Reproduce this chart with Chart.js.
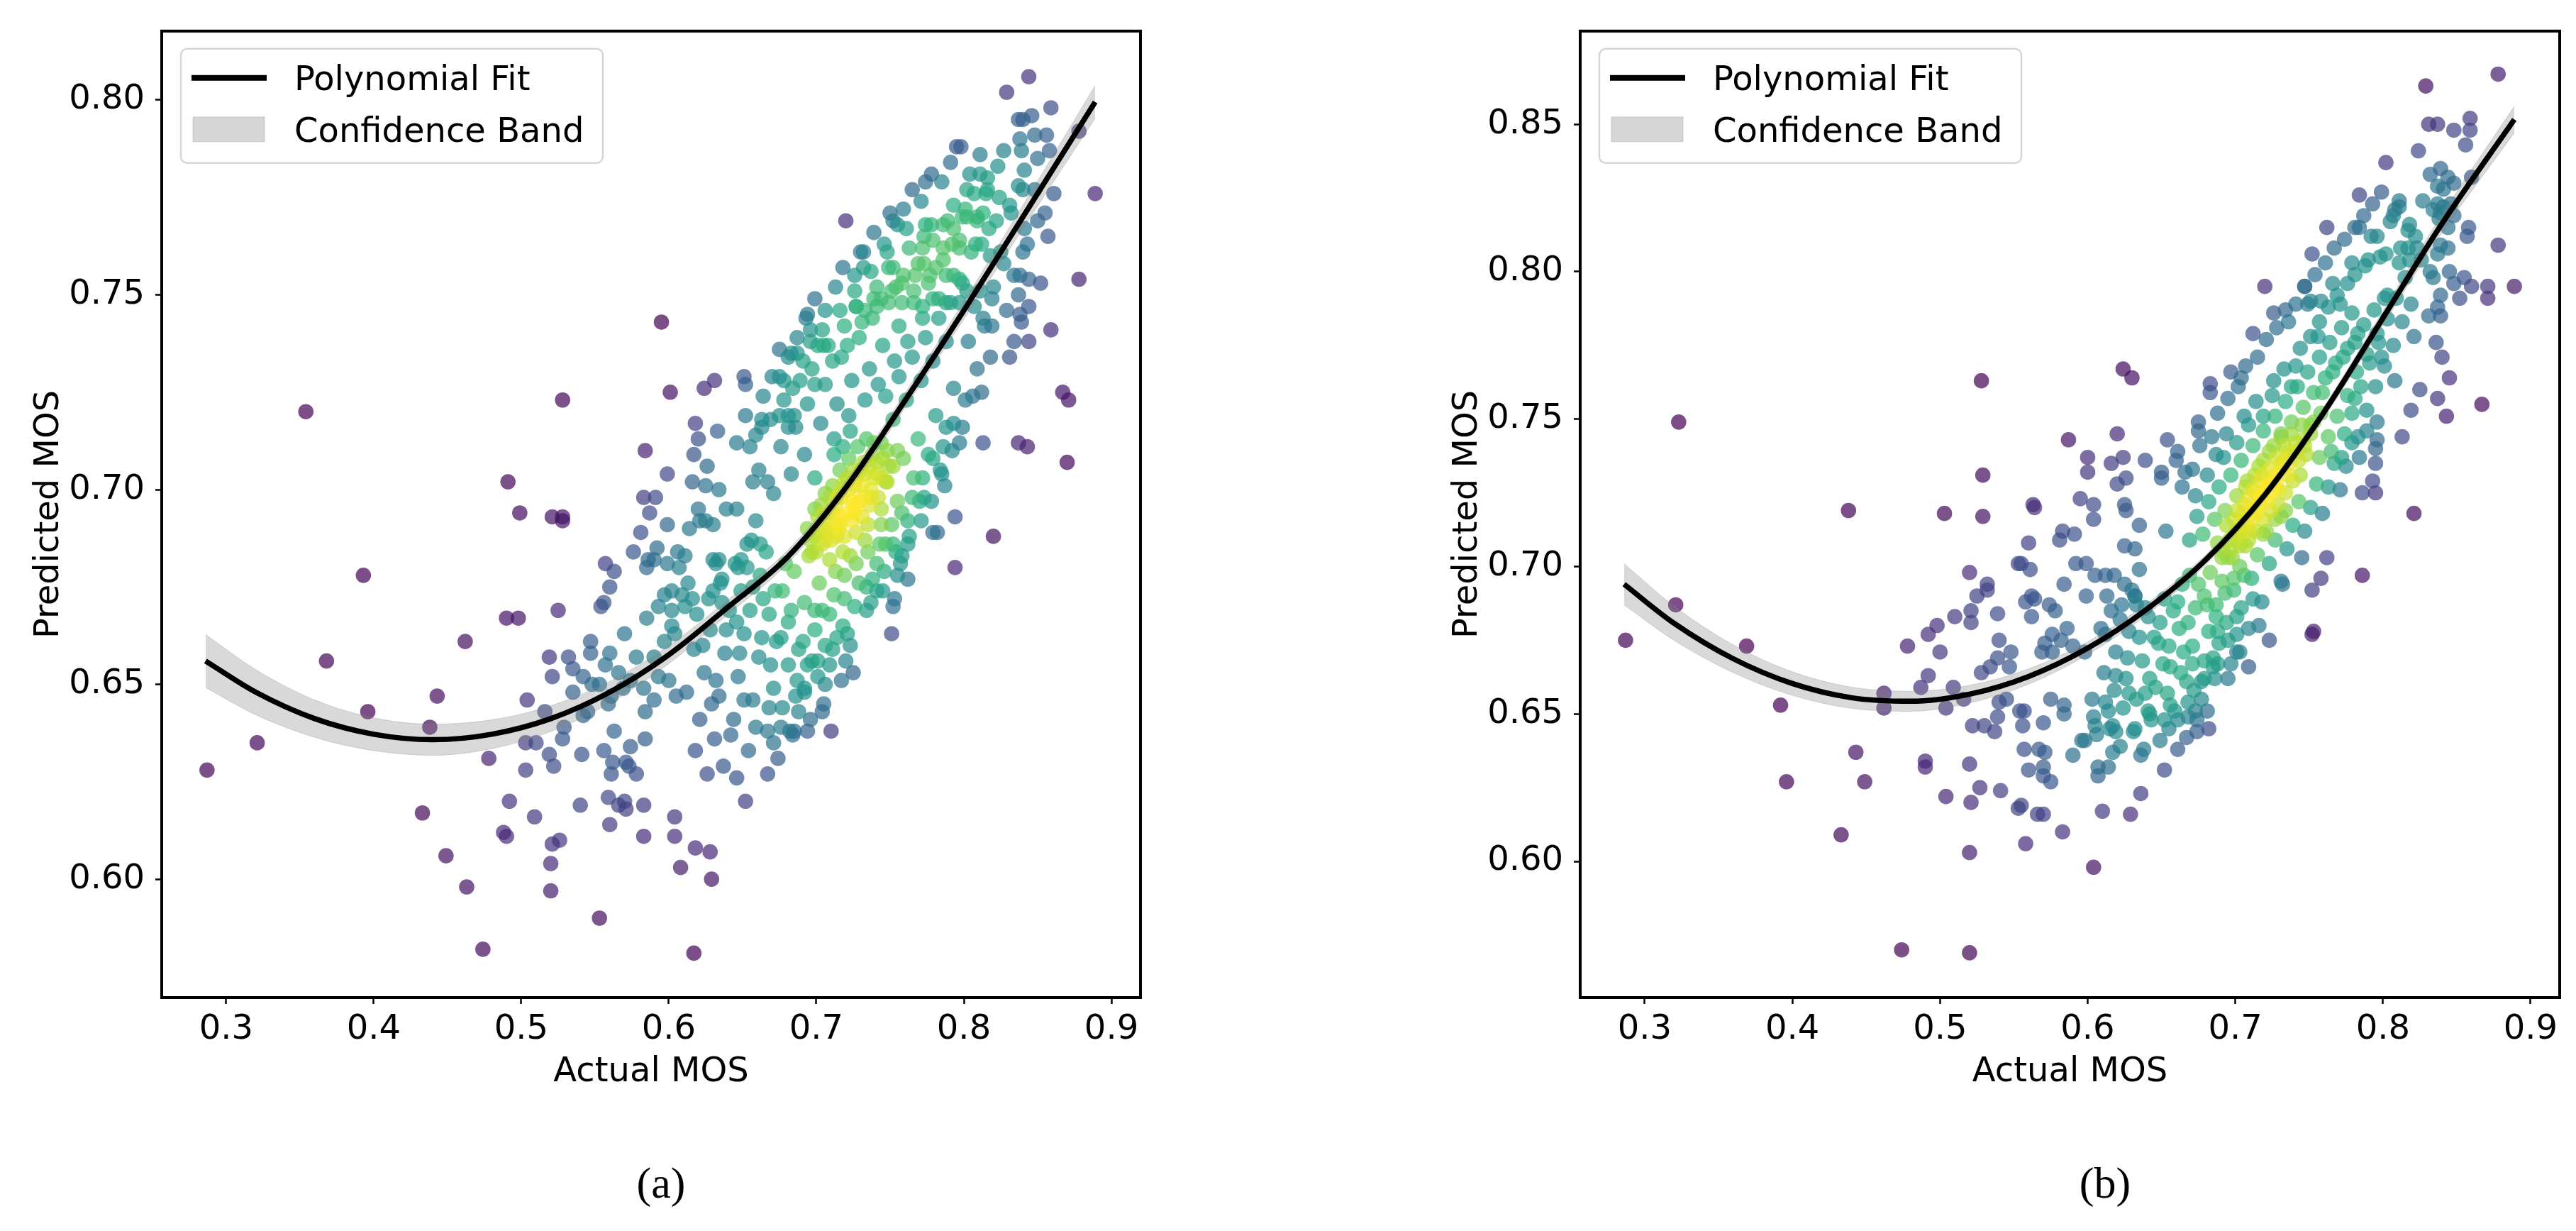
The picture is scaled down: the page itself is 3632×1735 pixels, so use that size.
<!DOCTYPE html>
<html>
<head>
<meta charset="utf-8">
<script src="https://cdn.jsdelivr.net/npm/chart.js@4.4.0/dist/chart.umd.min.js"></script>
<style>
  html, body { margin: 0; padding: 0; background: #fff; overflow: hidden; }
  body { width: 3632px; height: 1735px; position: relative; }
  canvas { position: absolute; top: 0; }
  #chartA { left: 0; }
  #chartB { left: 2000px; }
  .caption { position: absolute; top: 1667px; transform: translate(-50%, -50%); font: 62px "Liberation Serif", "Times New Roman", serif; color: #000; line-height: 1; }
</style>
</head>
<body>
<canvas id="chartA" width="1800" height="1735"></canvas>
<canvas id="chartB" width="1632" height="1735"></canvas>
<div class="caption" style="left:932px">(a)</div>
<div class="caption" style="left:2968px">(b)</div>
<script>
// axes
const xTicks = [0.3, 0.4, 0.5, 0.6, 0.7, 0.8, 0.9];
const yTicksA = [0.60, 0.65, 0.70, 0.75, 0.80];
const yTicksB = [0.60, 0.65, 0.70, 0.75, 0.80, 0.85];
const xTitle = 'Actual MOS';
const yTitle = 'Predicted MOS';
const legendLabels = ['Polynomial Fit', 'Confidence Band'];

// fitted curve + band
const fitX = [0.286, 0.32, 0.36, 0.40, 0.44, 0.48, 0.52, 0.56, 0.60, 0.64, 0.68, 0.72, 0.76, 0.80, 0.84, 0.889];
const fitYA = [0.6560, 0.6480, 0.6412, 0.6372, 0.6358, 0.6372, 0.6412, 0.6480, 0.6576, 0.6698, 0.6825, 0.7005, 0.7228, 0.7460, 0.7700, 0.7995];
const upperA = [0.6628, 0.6538, 0.6460, 0.6414, 0.6398, 0.6409, 0.6445, 0.6508, 0.6599, 0.6717, 0.6842, 0.7022, 0.7247, 0.7483, 0.7730, 0.8037];
const lowerA = [0.6492, 0.6422, 0.6364, 0.6330, 0.6318, 0.6335, 0.6379, 0.6452, 0.6553, 0.6679, 0.6808, 0.6988, 0.7209, 0.7437, 0.7670, 0.7953];
const fitYB = [0.6940, 0.6807, 0.6687, 0.6603, 0.6555, 0.6543, 0.6567, 0.6627, 0.6723, 0.6855, 0.7023, 0.7243, 0.7523, 0.7843, 0.8163, 0.8516];
const upperB = [0.7010, 0.6865, 0.6734, 0.6643, 0.6591, 0.6577, 0.6597, 0.6653, 0.6745, 0.6874, 0.7040, 0.7260, 0.7542, 0.7867, 0.8194, 0.8561];
const lowerB = [0.6870, 0.6749, 0.6640, 0.6563, 0.6519, 0.6509, 0.6537, 0.6601, 0.6701, 0.6836, 0.7006, 0.7226, 0.7504, 0.7819, 0.8132, 0.8471];

// scatter (actual, predicted) for panel (a)
const pointsA = [
  [0.287,0.628],[0.321,0.635],[0.354,0.720],[0.368,0.656],[0.393,0.678],[0.396,0.643],[0.443,0.647],[0.438,0.639],[0.433,0.617],[0.449,0.606],[0.463,0.598],[0.474,0.582],[0.478,0.631],[0.462,0.661],
  [0.504,0.646],[0.503,0.635],[0.503,0.628],[0.510,0.635],[0.516,0.643],[0.519,0.657],[0.521,0.652],[0.532,0.657],[0.529,0.639],[0.528,0.636],[0.519,0.632],[0.522,0.629],[0.541,0.632],[0.492,0.620],[0.488,0.612],[0.490,0.611],[0.509,0.616],[0.521,0.609],[0.526,0.610],[0.520,0.604],[0.520,0.597],[0.553,0.590],[0.540,0.619],[0.547,0.661],[0.547,0.658],[0.535,0.654],[0.542,0.652],[0.548,0.650],[0.535,0.648],[0.545,0.643],[0.542,0.642],[0.553,0.650],
  [0.528,0.723],[0.491,0.702],[0.499,0.694],[0.521,0.693],[0.528,0.693],[0.528,0.692],[0.490,0.667],[0.498,0.667],[0.525,0.669],[0.554,0.670],
  [0.844,0.806],[0.829,0.802],[0.859,0.798],[0.837,0.795],[0.840,0.795],[0.846,0.796],[0.795,0.788],[0.878,0.792],
  [0.838,0.790],[0.848,0.791],[0.856,0.791],[0.839,0.787],[0.858,0.787],[0.850,0.785],[0.827,0.787],[0.823,0.783],[0.841,0.782],[0.811,0.781],[0.816,0.780],[0.802,0.777],[0.815,0.776],[0.824,0.775],[0.831,0.773],[0.832,0.771],[0.837,0.778],[0.840,0.777],[0.848,0.777],[0.861,0.776],[0.855,0.771],[0.850,0.769],[0.857,0.765],[0.841,0.767],[0.843,0.763],[0.840,0.761],[0.889,0.776],[0.774,0.779],[0.720,0.769],[0.750,0.771],[0.755,0.768],[0.778,0.768],[0.793,0.773],[0.793,0.767],[0.802,0.770],[0.809,0.770],[0.817,0.767],[0.772,0.762],[0.786,0.762],[0.797,0.762],[0.808,0.763],[0.812,0.763],[0.818,0.760],[0.825,0.761],[0.730,0.761],[0.732,0.757],[0.749,0.757],[0.759,0.755],[0.773,0.758],[0.777,0.755],[0.788,0.755],[0.797,0.754],[0.802,0.751],[0.811,0.751],[0.820,0.752],[0.878,0.754],[0.838,0.755],[0.844,0.754],[0.852,0.753],[0.837,0.750],[0.844,0.747],[0.838,0.745],[0.839,0.743],[0.595,0.743],[0.694,0.745],[0.696,0.741],[0.696,0.738],[0.705,0.737],[0.727,0.747],[0.739,0.749],[0.741,0.747],[0.751,0.751],[0.758,0.748],[0.766,0.751],[0.772,0.747],[0.779,0.749],[0.788,0.748],[0.797,0.748],[0.807,0.747],[0.813,0.744],[0.819,0.742],[0.859,0.741],[0.834,0.738],[0.844,0.738],[0.831,0.734],[0.675,0.736],[0.683,0.735],[0.687,0.735],[0.601,0.725],[0.624,0.726],[0.631,0.728],[0.651,0.729],[0.652,0.727],[0.670,0.729],[0.678,0.728],[0.678,0.723],[0.867,0.725],[0.871,0.723],[0.813,0.712],[0.837,0.712],[0.843,0.711],[0.870,0.707],[0.584,0.710],[0.599,0.704],[0.583,0.698],[0.591,0.698],[0.618,0.717],[0.620,0.713],[0.617,0.709],[0.633,0.715],[0.626,0.706],[0.616,0.702],[0.625,0.701],[0.634,0.700],[0.655,0.711],[0.663,0.718],[0.663,0.716],[0.675,0.719],[0.681,0.716],[0.685,0.719],[0.661,0.705],[0.667,0.702],[0.657,0.702],
  [0.747,0.686],[0.758,0.683],[0.762,0.686],[0.755,0.678],[0.762,0.677],[0.734,0.675],[0.741,0.674],[0.737,0.671],[0.726,0.670],[0.753,0.672],[0.752,0.670],[0.751,0.663],[0.723,0.660],[0.718,0.665],[0.706,0.660],[0.701,0.656],[0.720,0.656],[0.725,0.653],[0.717,0.651],[0.706,0.650],[0.692,0.648],[0.704,0.643],[0.710,0.638],[0.694,0.638],[0.682,0.638],[0.685,0.638],[0.671,0.635],[0.667,0.627],[0.652,0.620],[0.779,0.689],[0.782,0.689],[0.794,0.693],[0.820,0.688],[0.794,0.680],[0.770,0.697],
  [0.628,0.607],[0.618,0.608],[0.629,0.600],[0.608,0.603],[0.617,0.581],[0.604,0.616],[0.604,0.611],[0.583,0.611],[0.560,0.614],
  [0.587,0.694],[0.599,0.691],[0.581,0.689],[0.576,0.684],[0.592,0.685],[0.585,0.680],[0.586,0.682],[0.590,0.682],[0.599,0.681],[0.607,0.680],[0.606,0.684],[0.611,0.683],[0.614,0.690],[0.621,0.692],[0.625,0.692],[0.630,0.691],[0.620,0.695],[0.639,0.695],[0.646,0.695],[0.557,0.681],[0.563,0.679],[0.560,0.675],[0.556,0.671],[0.630,0.682],[0.634,0.682],[0.632,0.681],[0.635,0.676],[0.630,0.674],[0.649,0.682],[0.653,0.680],[0.647,0.680],[0.656,0.687],[0.662,0.686],[0.597,0.673],[0.602,0.674],[0.609,0.673],[0.616,0.672],[0.602,0.669],[0.611,0.670],[0.585,0.667],[0.593,0.670],[0.570,0.663],[0.597,0.661],[0.604,0.663],[0.602,0.665],[0.578,0.657],[0.590,0.657],[0.560,0.658],[0.557,0.655],[0.566,0.653],[0.574,0.651],[0.569,0.649],[0.561,0.647],[0.559,0.645],[0.583,0.649],[0.590,0.646],[0.584,0.643],[0.600,0.651],[0.605,0.647],[0.593,0.652],[0.563,0.638],[0.574,0.634],[0.584,0.636],[0.556,0.633],[0.562,0.630],[0.571,0.630],[0.578,0.627],[0.561,0.627],[0.573,0.629],[0.559,0.621],[0.566,0.619],[0.571,0.618],[0.583,0.619],[0.570,0.620],
  // dense ridge along the fit
  [0.702,0.689],[0.708,0.694],[0.713,0.691],[0.717,0.698],[0.721,0.694],[0.726,0.701],[0.729,0.697],[0.733,0.704],[0.737,0.700],[0.741,0.707],[0.744,0.703],[0.748,0.710],[0.711,0.701],[0.716,0.705],[0.722,0.708],[0.728,0.711],[0.734,0.713],[0.706,0.699],[0.699,0.695],[0.694,0.690],[0.697,0.684],[0.704,0.686],[0.710,0.687],[0.715,0.690],[0.719,0.688],[0.724,0.692],[0.731,0.693],[0.736,0.696],[0.742,0.698],[0.747,0.702],[0.752,0.706],[0.725,0.705],[0.732,0.707],[0.739,0.712],[0.719,0.702],[0.713,0.696],[0.707,0.691],[0.701,0.693],[0.727,0.689],[0.735,0.691],[0.744,0.695],[0.718,0.684],[0.709,0.682],[0.723,0.715],[0.712,0.709],
  [0.716,0.700],[0.721,0.703],[0.727,0.703],[0.711,0.694],[0.705,0.690],[0.731,0.701],[0.736,0.706],[0.741,0.704],[0.709,0.698],[0.714,0.688],[0.724,0.697],[0.699,0.688],[0.745,0.708],[0.718,0.711],[0.703,0.696],
  [0.696,0.687],[0.705,0.694],[0.714,0.698],[0.722,0.700],[0.730,0.705],[0.738,0.709],[0.744,0.712],[0.732,0.698],[0.726,0.696],[0.739,0.703],[0.749,0.706],[0.717,0.693],[0.708,0.689],[0.700,0.684],[0.755,0.710],
  // green shoulder above the fit
  [0.671,0.699],[0.676,0.711],[0.683,0.704],[0.686,0.716],[0.692,0.709],[0.694,0.722],[0.699,0.703],[0.703,0.717],[0.706,0.727],[0.712,0.713],[0.714,0.722],[0.717,0.734],[0.722,0.719],[0.724,0.728],[0.729,0.739],[0.733,0.723],[0.736,0.731],[0.738,0.744],[0.742,0.727],[0.745,0.737],[0.749,0.748],[0.753,0.733],[0.756,0.742],[0.758,0.753],[0.762,0.738],[0.766,0.748],[0.769,0.758],[0.772,0.744],[0.776,0.753],[0.779,0.764],[0.783,0.749],[0.786,0.759],[0.789,0.769],[0.793,0.755],[0.797,0.764],[0.801,0.772],[0.805,0.761],[0.809,0.769],[0.689,0.728],[0.697,0.731],[0.708,0.737],[0.719,0.742],[0.727,0.747],[0.741,0.752],[0.752,0.757],[0.763,0.762],[0.774,0.768],[0.681,0.719],[0.701,0.737],[0.731,0.743],
  [0.684,0.726],[0.691,0.733],[0.699,0.727],[0.704,0.741],[0.711,0.733],[0.716,0.746],[0.721,0.737],[0.726,0.751],[0.733,0.746],[0.737,0.756],[0.744,0.749],[0.748,0.761],[0.754,0.752],[0.761,0.767],[0.767,0.755],[0.773,0.765],[0.781,0.757],[0.786,0.768],[0.792,0.763],[0.799,0.770],[0.807,0.776],[0.813,0.771],[0.747,0.724],[0.756,0.729],[0.765,0.734],[0.774,0.739],[0.783,0.744],[0.791,0.748],[0.799,0.753],[0.771,0.728],[0.761,0.723],[0.752,0.718],[0.779,0.733],[0.788,0.738],
  // green shoulder below the fit
  [0.668,0.668],[0.673,0.661],[0.677,0.674],[0.681,0.666],[0.685,0.679],[0.688,0.659],[0.692,0.671],[0.695,0.683],[0.699,0.664],[0.702,0.676],[0.706,0.687],[0.709,0.668],[0.713,0.679],[0.716,0.691],[0.719,0.672],[0.723,0.683],[0.726,0.694],[0.729,0.676],[0.733,0.687],[0.737,0.698],[0.741,0.681],[0.744,0.691],[0.748,0.702],[0.752,0.686],[0.755,0.697],[0.759,0.708],[0.762,0.692],[0.766,0.703],[0.769,0.713],[0.773,0.698],[0.776,0.709],[0.781,0.719],[0.784,0.705],[0.788,0.716],[0.793,0.726],[0.797,0.712],[0.801,0.723],[0.687,0.651],[0.697,0.656],[0.711,0.659],[0.721,0.663],[0.734,0.669],[0.745,0.674],[0.757,0.681],
  [0.704,0.669],[0.712,0.673],[0.719,0.678],[0.727,0.681],[0.735,0.684],[0.743,0.686],[0.751,0.691],[0.758,0.694],[0.765,0.698],[0.772,0.703],[0.779,0.708],[0.786,0.711],[0.793,0.717],[0.738,0.677],[0.746,0.679],[0.754,0.684],[0.763,0.688],[0.771,0.692],[0.778,0.697],[0.787,0.701],
  // teal lobe under the fit
  [0.612,0.648],[0.617,0.659],[0.621,0.641],[0.624,0.653],[0.628,0.664],[0.631,0.636],[0.634,0.647],[0.638,0.658],[0.641,0.669],[0.644,0.641],[0.647,0.652],[0.651,0.663],[0.654,0.633],[0.657,0.646],[0.661,0.657],[0.664,0.672],[0.667,0.638],[0.671,0.649],[0.674,0.631],[0.677,0.644],[0.681,0.655],[0.684,0.637],[0.688,0.643],[0.692,0.649],[0.696,0.641],[0.701,0.652],[0.705,0.645],[0.709,0.655],[0.714,0.662],[0.618,0.633],[0.626,0.627],[0.637,0.629],[0.646,0.626],[0.627,0.672],[0.636,0.677],[0.645,0.681],[0.653,0.686],[0.659,0.692],[0.666,0.684],[0.619,0.668],[0.613,0.676],[0.649,0.674],[0.662,0.678],
  [0.623,0.660],[0.632,0.651],[0.639,0.664],[0.648,0.658],[0.655,0.669],[0.663,0.662],[0.669,0.655],[0.676,0.662],[0.683,0.669],[0.691,0.661],[0.699,0.669],[0.642,0.637],[0.651,0.646],[0.659,0.639],[0.668,0.644],[0.676,0.639],[0.686,0.647],[0.694,0.655],[0.629,0.645],[0.636,0.671],[0.646,0.666],[0.657,0.675],[0.672,0.674],[0.679,0.681],
  // teal band on the upper side
  [0.646,0.712],[0.652,0.719],[0.659,0.714],[0.664,0.724],[0.669,0.718],[0.675,0.729],[0.681,0.734],[0.687,0.739],[0.693,0.744],[0.699,0.749],[0.706,0.746],[0.713,0.752],[0.718,0.757],[0.726,0.755],[0.732,0.761],[0.739,0.766],[0.746,0.763],[0.752,0.769],[0.759,0.772],[0.765,0.777],[0.771,0.774],[0.778,0.781],[0.785,0.779],[0.791,0.784],[0.798,0.788],[0.804,0.781],[0.811,0.786],[0.816,0.777],[0.822,0.769],[0.827,0.758],[0.819,0.749],[0.829,0.746],[0.834,0.755],
  [0.803,0.738],[0.809,0.731],[0.814,0.742],[0.806,0.724],[0.799,0.716],[0.792,0.710],[0.785,0.704],[0.818,0.734],[0.812,0.725]
];

// scatter (actual, predicted) for panel (b)
const pointsB = [
  [0.287,0.675],[0.321,0.687],[0.323,0.749],[0.369,0.673],[0.392,0.653],[0.396,0.627],[0.443,0.637],[0.449,0.627],[0.433,0.609],[0.474,0.570],[0.520,0.569],[0.520,0.603],[0.478,0.673],[0.500,0.671],[0.492,0.663],[0.487,0.659],[0.509,0.659],[0.504,0.652],[0.516,0.655],[0.462,0.657],[0.462,0.652],[0.490,0.634],[0.490,0.632],[0.520,0.633],[0.527,0.625],[0.504,0.622],[0.521,0.620],[0.541,0.624],[0.553,0.618],[0.522,0.646],[0.530,0.646],[0.537,0.644],[0.539,0.649],[0.528,0.664],[0.534,0.666],[0.539,0.669],[0.547,0.666],[0.548,0.671],[0.540,0.654],[0.545,0.655],[0.554,0.651],
  [0.528,0.763],[0.438,0.719],[0.503,0.718],[0.529,0.731],[0.529,0.717],[0.520,0.698],[0.532,0.694],[0.532,0.692],[0.525,0.690],[0.521,0.685],[0.521,0.681],[0.510,0.683],[0.539,0.684],[0.553,0.701],[0.498,0.680],[0.492,0.677],[0.540,0.675],
  [0.878,0.867],[0.829,0.863],[0.831,0.850],[0.837,0.850],[0.848,0.848],[0.859,0.852],[0.859,0.848],[0.856,0.843],[0.824,0.841],[0.802,0.837],[0.839,0.835],[0.832,0.833],[0.844,0.832],[0.848,0.830],[0.837,0.829],[0.841,0.828],[0.860,0.832],[0.784,0.826],[0.811,0.824],[0.808,0.821],[0.807,0.819],[0.827,0.824],[0.837,0.823],[0.841,0.822],[0.846,0.823],[0.839,0.820],[0.834,0.821],[0.848,0.819],[0.818,0.816],[0.822,0.812],[0.817,0.814],[0.762,0.815],[0.784,0.815],[0.796,0.812],[0.858,0.815],[0.857,0.812],[0.838,0.818],[0.844,0.815],[0.839,0.809],[0.844,0.808],[0.837,0.806],[0.878,0.809],[0.812,0.808],[0.823,0.808],[0.826,0.804],[0.818,0.804],[0.802,0.806],[0.798,0.805],[0.790,0.804],[0.788,0.802],[0.832,0.800],[0.834,0.798],[0.845,0.800],[0.848,0.796],[0.855,0.798],[0.860,0.795],[0.852,0.791],[0.839,0.792],[0.837,0.788],[0.839,0.785],[0.831,0.785],[0.871,0.795],[0.871,0.791],[0.889,0.795],[0.720,0.795],[0.747,0.795],[0.758,0.790],[0.749,0.789],[0.751,0.790],[0.736,0.783],[0.836,0.776],[0.840,0.771],[0.845,0.764],[0.837,0.757],[0.843,0.751],[0.867,0.755],[0.825,0.760],[0.819,0.753],[0.813,0.744],[0.796,0.743],[0.795,0.740],[0.795,0.735],[0.793,0.729],[0.786,0.725],[0.795,0.725],[0.683,0.762],[0.704,0.764],[0.587,0.743],[0.620,0.745],[0.600,0.737],[0.600,0.732],[0.616,0.735],[0.624,0.737],[0.639,0.736],[0.654,0.743],[0.661,0.739],[0.660,0.736],[0.666,0.732],[0.650,0.732],[0.650,0.730],[0.620,0.728],[0.626,0.730],[0.595,0.723],[0.563,0.721],[0.625,0.721],[0.604,0.721],[0.624,0.767],[0.630,0.764],[0.675,0.749],[0.675,0.746],
  [0.821,0.718],[0.786,0.697],[0.762,0.703],[0.758,0.696],[0.752,0.692],[0.753,0.678],[0.752,0.677],[0.732,0.694],[0.723,0.675],[0.716,0.680],[0.709,0.666],[0.701,0.671],[0.695,0.675],[0.685,0.669],[0.685,0.666],[0.677,0.661],[0.671,0.667],[0.682,0.645],[0.667,0.642],[0.674,0.648],[0.673,0.651],[0.668,0.654],[0.661,0.648],[0.652,0.648],[0.656,0.653],[0.642,0.650],[0.652,0.631],[0.636,0.623],[0.638,0.638],[0.629,0.616],[0.610,0.617],[0.604,0.598],[0.583,0.610],[0.558,0.606],[0.570,0.616],[0.566,0.616],[0.555,0.619],[0.617,0.637],[0.607,0.632],[0.607,0.629],[0.614,0.632],[0.590,0.636],[0.596,0.641],[0.598,0.641],[0.619,0.644],[0.632,0.645],[0.605,0.646],[0.604,0.649],[0.612,0.654],[0.556,0.646],[0.570,0.647],[0.557,0.651],[0.584,0.650],[0.575,0.655],[0.584,0.653],
  [0.557,0.638],[0.560,0.631],[0.570,0.632],[0.570,0.629],[0.575,0.627],[0.567,0.638],[0.571,0.637],
  [0.564,0.720],[0.604,0.716],[0.626,0.719],[0.635,0.714],[0.583,0.712],[0.591,0.711],[0.581,0.709],[0.560,0.708],[0.625,0.707],[0.632,0.706],[0.653,0.712],[0.592,0.701],[0.599,0.701],[0.561,0.699],[0.555,0.701],[0.635,0.699],[0.584,0.694],[0.605,0.697],[0.612,0.697],[0.618,0.697],[0.599,0.690],[0.625,0.694],[0.630,0.692],[0.632,0.690],[0.562,0.690],[0.558,0.688],[0.564,0.689],[0.574,0.687],[0.578,0.685],[0.562,0.683],[0.586,0.679],[0.576,0.677],[0.571,0.674],[0.582,0.675],[0.590,0.673],[0.598,0.671],[0.569,0.671],[0.576,0.671],
  [0.613,0.690],[0.623,0.687],[0.632,0.690],[0.616,0.685],[0.609,0.679],[0.639,0.686],
  // dense ridge along the fit
  [0.700,0.712],[0.704,0.716],[0.708,0.714],[0.711,0.720],[0.715,0.718],[0.718,0.724],[0.722,0.722],[0.725,0.728],[0.729,0.726],[0.732,0.733],[0.736,0.731],[0.739,0.738],[0.743,0.736],[0.746,0.743],[0.706,0.721],[0.712,0.726],[0.717,0.729],[0.723,0.733],[0.728,0.737],[0.733,0.741],[0.738,0.745],[0.696,0.709],[0.692,0.705],[0.698,0.703],[0.703,0.707],[0.709,0.709],[0.714,0.712],[0.719,0.716],[0.724,0.719],[0.729,0.721],[0.734,0.725],[0.739,0.729],[0.744,0.731],[0.748,0.738],[0.707,0.727],[0.713,0.731],[0.719,0.736],[0.726,0.741],[0.731,0.745],[0.701,0.719],[0.694,0.714],[0.688,0.708],[0.721,0.712],[0.727,0.716],[0.734,0.719],
  [0.716,0.721],[0.721,0.727],[0.727,0.731],[0.711,0.716],[0.705,0.712],[0.731,0.735],[0.736,0.739],[0.741,0.742],[0.709,0.723],[0.714,0.725],[0.724,0.725],[0.699,0.716],[0.745,0.748],[0.718,0.731],[0.703,0.711],
  [0.697,0.706],[0.705,0.718],[0.712,0.719],[0.717,0.723],[0.723,0.728],[0.728,0.729],[0.733,0.736],[0.737,0.735],[0.742,0.739],[0.747,0.741],[0.751,0.745],[0.709,0.712],[0.702,0.709],[0.691,0.703],[0.753,0.749],
  // green shoulder above the fit
  [0.669,0.709],[0.674,0.717],[0.678,0.711],[0.682,0.722],[0.686,0.716],[0.689,0.727],[0.693,0.719],[0.697,0.731],[0.701,0.724],[0.704,0.736],[0.708,0.729],[0.712,0.741],[0.716,0.734],[0.719,0.746],[0.723,0.739],[0.727,0.751],[0.731,0.744],[0.734,0.756],[0.738,0.749],[0.742,0.761],[0.746,0.754],[0.749,0.766],[0.753,0.759],[0.757,0.771],[0.761,0.764],[0.764,0.776],[0.768,0.769],[0.772,0.781],[0.776,0.774],[0.779,0.786],[0.783,0.779],[0.692,0.737],[0.709,0.748],[0.725,0.758],[0.741,0.768],[0.756,0.778],[0.771,0.789],
  [0.673,0.724],[0.681,0.731],[0.687,0.738],[0.694,0.745],[0.701,0.742],[0.706,0.751],[0.714,0.756],[0.719,0.751],[0.726,0.763],[0.733,0.767],[0.738,0.761],[0.744,0.774],[0.751,0.778],[0.757,0.783],[0.763,0.788],[0.769,0.792],[0.776,0.796],[0.781,0.799],[0.759,0.759],[0.766,0.766],[0.773,0.771],[0.781,0.776],[0.787,0.782],[0.794,0.787],[0.801,0.791],[0.751,0.748],[0.758,0.752],
  // green shoulder below the fit
  [0.679,0.690],[0.683,0.698],[0.687,0.687],[0.691,0.695],[0.695,0.703],[0.699,0.692],[0.703,0.700],[0.707,0.707],[0.711,0.696],[0.715,0.704],[0.719,0.711],[0.723,0.701],[0.727,0.709],[0.731,0.717],[0.735,0.706],[0.739,0.714],[0.743,0.722],[0.747,0.712],[0.751,0.720],[0.755,0.728],[0.759,0.718],[0.763,0.727],[0.767,0.735],[0.771,0.726],[0.775,0.734],[0.779,0.742],[0.784,0.737],[0.789,0.746],[0.718,0.688],[0.731,0.695],[0.745,0.703],[0.701,0.683],[0.688,0.678],
  // teal band on the upper side
  [0.664,0.727],[0.671,0.733],[0.676,0.741],[0.684,0.744],[0.688,0.752],[0.695,0.757],[0.702,0.761],[0.707,0.768],[0.715,0.771],[0.721,0.777],[0.728,0.781],[0.734,0.787],[0.741,0.789],[0.747,0.795],[0.754,0.799],[0.761,0.803],[0.767,0.808],[0.774,0.811],[0.781,0.815],[0.787,0.819],[0.793,0.823],[0.799,0.827],[0.683,0.759],[0.697,0.766],[0.712,0.779],[0.726,0.786],[0.752,0.806],[0.766,0.796],[0.779,0.803],[0.792,0.812],[0.805,0.817],[0.811,0.822],
  [0.779,0.752],[0.785,0.761],[0.791,0.769],[0.797,0.776],[0.803,0.784],[0.809,0.791],[0.815,0.798],[0.783,0.744],[0.789,0.753],[0.795,0.761],[0.801,0.768],[0.807,0.775],[0.813,0.783],[0.819,0.789],[0.774,0.745],[0.796,0.749],[0.808,0.763],[0.821,0.778],
  [0.757,0.737],[0.763,0.744],[0.769,0.751],[0.776,0.758],[0.782,0.766],[0.789,0.772],[0.796,0.779],[0.803,0.792],[0.811,0.803],[0.817,0.808],[0.765,0.739],[0.772,0.737],[0.781,0.757],[0.799,0.771],
  // teal lobe under the fit
  [0.603,0.655],[0.611,0.664],[0.614,0.651],[0.619,0.671],[0.626,0.662],[0.628,0.678],[0.633,0.655],[0.637,0.668],[0.641,0.683],[0.646,0.659],[0.648,0.674],[0.652,0.689],[0.656,0.666],[0.659,0.651],[0.662,0.679],[0.664,0.694],[0.667,0.661],[0.671,0.673],[0.673,0.686],[0.677,0.655],[0.679,0.668],[0.682,0.678],[0.686,0.662],[0.689,0.674],[0.694,0.681],[0.697,0.667],[0.701,0.677],[0.704,0.686],[0.709,0.679],[0.712,0.689],[0.606,0.643],[0.617,0.646],[0.622,0.639],[0.631,0.644],[0.636,0.636],[0.643,0.648],[0.649,0.641],[0.655,0.645],[0.661,0.638],[0.668,0.649],[0.674,0.644],[0.681,0.651],[0.624,0.652],[0.639,0.657],[0.651,0.667],[0.665,0.671],[0.618,0.658],[0.645,0.676],[0.658,0.685],[0.669,0.697],[0.633,0.687],[0.622,0.682],[0.612,0.677],
  [0.627,0.669],[0.635,0.676],[0.642,0.662],[0.649,0.681],[0.655,0.673],[0.661,0.688],[0.668,0.681],[0.675,0.694],[0.681,0.687],[0.687,0.683],[0.693,0.691],[0.699,0.696],[0.706,0.697],[0.654,0.657],[0.663,0.664],[0.672,0.658],[0.679,0.662],[0.688,0.667],[0.695,0.662],[0.703,0.671],[0.641,0.651],[0.628,0.657],[0.619,0.663],[0.615,0.645]
];

const viridis = ['#440154', '#472d7b', '#3b528b', '#2c728e', '#21918c', '#28ae80', '#5ec962', '#addc30', '#fde725'];

function hexRgb(h) {
  return [parseInt(h.slice(1, 3), 16), parseInt(h.slice(3, 5), 16), parseInt(h.slice(5, 7), 16)];
}

function viridisColor(t, alpha) {
  const s = Math.min(Math.max(t, 0), 1) * (viridis.length - 1);
  const i = Math.min(Math.floor(s), viridis.length - 2);
  const f = s - i;
  const a = hexRgb(viridis[i]), b = hexRgb(viridis[i + 1]);
  const c = a.map((v, k) => Math.round(v + (b[k] - v) * f));
  return `rgba(${c[0]},${c[1]},${c[2]},${alpha})`;
}

// gaussian kde (scott's rule, full covariance), dense points sorted on top
function densitySorted(points) {
  const n = points.length;
  let mx = 0, my = 0;
  points.forEach(([x, y]) => { mx += x; my += y; });
  mx /= n; my /= n;
  let sxx = 0, syy = 0, sxy = 0;
  points.forEach(([x, y]) => {
    sxx += (x - mx) ** 2; syy += (y - my) ** 2; sxy += (x - mx) * (y - my);
  });
  const f2 = Math.pow(n, -1 / 3) / (n - 1);
  const a = sxx * f2, b = sxy * f2, c = syy * f2;
  const det = a * c - b * b;
  const ia = c / det, ib = -b / det, ic = a / det;
  const z = points.map(([x, y]) => {
    let s = 0;
    for (const [u, v] of points) {
      const dx = x - u, dy = y - v;
      s += Math.exp(-0.5 * (ia * dx * dx + 2 * ib * dx * dy + ic * dy * dy));
    }
    return s;
  });
  const zmin = Math.min(...z), zmax = Math.max(...z);
  return points
    .map((p, i) => ({x: p[0], y: p[1], t: (z[i] - zmin) / (zmax - zmin)}))
    .sort((p, q) => p.t - q.t);
}

const font = {family: 'DejaVu Sans', size: 48};
const ink = '#000';

const frameLegend = {
  id: 'frameLegend',
  afterDraw(chart) {
    const {ctx, chartArea: ca} = chart;
    ctx.save();
    ctx.strokeStyle = '#000';
    ctx.lineWidth = 4;
    ctx.strokeRect(ca.left, ca.top, ca.right - ca.left, ca.bottom - ca.top);

    const bx = ca.left + 27, by = ca.top + 25, bw = 595, bh = 161, r = 9;
    ctx.beginPath();
    ctx.moveTo(bx + r, by);
    ctx.lineTo(bx + bw - r, by);
    ctx.arcTo(bx + bw, by, bx + bw, by + r, r);
    ctx.lineTo(bx + bw, by + bh - r);
    ctx.arcTo(bx + bw, by + bh, bx + bw - r, by + bh, r);
    ctx.lineTo(bx + r, by + bh);
    ctx.arcTo(bx, by + bh, bx, by + bh - r, r);
    ctx.lineTo(bx, by + r);
    ctx.arcTo(bx, by, bx + r, by, r);
    ctx.closePath();
    ctx.fillStyle = 'rgba(255,255,255,0.8)';
    ctx.fill();
    ctx.strokeStyle = 'rgba(204,204,204,0.8)';
    ctx.lineWidth = 2.5;
    ctx.stroke();

    ctx.beginPath();
    ctx.moveTo(ca.left + 42, ca.top + 66);
    ctx.lineTo(ca.left + 148, ca.top + 66);
    ctx.strokeStyle = '#000';
    ctx.lineWidth = 8;
    ctx.stroke();

    ctx.fillStyle = 'rgba(128,128,128,0.32)';
    ctx.fillRect(ca.left + 44, ca.top + 121, 101, 35);
    ctx.strokeStyle = 'rgba(128,128,128,0.2)';
    ctx.lineWidth = 1.5;
    ctx.strokeRect(ca.left + 44, ca.top + 121, 101, 35);

    ctx.fillStyle = ink;
    ctx.font = '48px "DejaVu Sans"';
    ctx.textBaseline = 'alphabetic';
    ctx.textAlign = 'left';
    ctx.fillText(legendLabels[0], ca.left + 187, ca.top + 83);
    ctx.fillText(legendLabels[1], ca.left + 187, ca.top + 156);
    ctx.restore();
  }
};

function xy(xs, ys) {
  return xs.map((x, i) => ({x, y: ys[i]}));
}

function makePanel(id, points, fitY, upper, lower, yTicks, yMin, yMax, padRight) {
  const pts = densitySorted(points);
  const band = 'rgba(128,128,128,0.3)';
  return new Chart(document.getElementById(id), {
    type: 'scatter',
    data: {
      datasets: [
        {
          type: 'line', label: legendLabels[0], data: xy(fitX, fitY),
          borderColor: '#000', borderWidth: 7.5, pointRadius: 0,
          cubicInterpolationMode: 'monotone', fill: false, order: 0
        },
        {
          type: 'line', label: legendLabels[1], data: xy(fitX, upper),
          borderColor: band, borderWidth: 1, backgroundColor: band, pointRadius: 0,
          cubicInterpolationMode: 'monotone', fill: '+1', order: 1
        },
        {
          type: 'line', label: 'lower', data: xy(fitX, lower),
          borderColor: band, borderWidth: 1, pointRadius: 0,
          cubicInterpolationMode: 'monotone', fill: false, order: 1
        },
        {
          type: 'scatter', label: 'samples', data: pts.map(p => ({x: p.x, y: p.y})),
          backgroundColor: pts.map(p => viridisColor(p.t, 0.7)),
          pointRadius: 10.8, pointHoverRadius: 10.8, borderWidth: 0, order: 2
        }
      ]
    },
    options: {
      responsive: false,
      animation: false,
      events: [],
      layout: {autoPadding: false, padding: {left: 0, top: 37, right: padRight, bottom: 0}},
      plugins: {legend: {display: false}, tooltip: {enabled: false}},
      scales: {
        x: {
          type: 'linear', min: 0.2563, max: 0.9197,
          afterBuildTicks: s => { s.ticks = xTicks.map(v => ({value: v})); },
          afterFit: s => { s.height = 329; },
          ticks: {font, color: ink, padding: 8, maxRotation: 0, autoSkip: false, callback: v => v.toFixed(1)},
          grid: {display: true, drawOnChartArea: false, drawTicks: true, tickLength: 9, tickWidth: 2.5, tickColor: '#000'},
          border: {display: false},
          title: {display: true, text: xTitle, font, color: ink, padding: {top: 0, bottom: 195}}
        },
        y: {
          type: 'linear', min: yMin, max: yMax,
          afterBuildTicks: s => { s.ticks = yTicks.map(v => ({value: v})); },
          afterFit: s => { s.width = 228; },
          ticks: {font, color: ink, padding: 15, autoSkip: false, callback: v => v.toFixed(2)},
          grid: {display: true, drawOnChartArea: false, drawTicks: true, tickLength: 9, tickWidth: 2.5, tickColor: '#000'},
          border: {display: false},
          title: {display: true, text: yTitle, font, color: ink, padding: {top: 41, bottom: 0}}
        }
      }
    },
    plugins: [frameLegend]
  });
}

makePanel('chartA', pointsA, fitYA, upperA, lowerA, yTicksA, 0.5696, 0.8177, 192);
makePanel('chartB', pointsB, fitYB, upperB, lowerB, yTicksB, 0.5538, 0.8816, 23);
</script>
</body>
</html>
